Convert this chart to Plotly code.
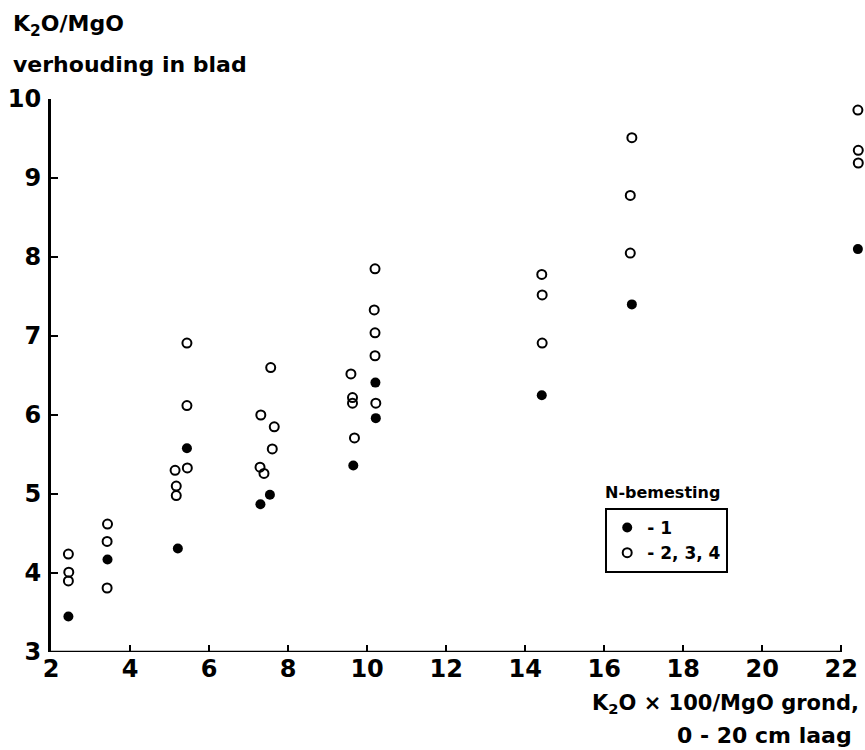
import plotly.graph_objects as go

# N-bemesting 1 (filled)
x_n1 = [2.44, 3.43, 5.21, 5.44, 7.30, 7.54, 9.65, 10.21, 10.22, 14.42, 16.70, 22.42]
y_n1 = [3.45, 4.17, 4.31, 5.58, 4.87, 4.99, 5.36, 6.41, 5.96, 6.25, 7.40, 8.10]

# N-bemesting 2, 3, 4 (open)
x_n234 = [2.44, 2.45, 2.44,
          3.43, 3.42, 3.42,
          5.14, 5.17, 5.17,
          5.44, 5.44, 5.45,
          7.56, 7.31, 7.65, 7.60, 7.29, 7.39,
          10.20, 10.18, 10.20, 10.20, 9.59, 9.63, 9.63, 10.22, 9.68,
          14.42, 14.43, 14.43,
          16.70, 16.66, 16.66,
          22.42, 22.43, 22.43]
y_n234 = [4.24, 4.01, 3.90,
          4.62, 4.40, 3.81,
          5.30, 5.10, 4.98,
          6.91, 6.12, 5.33,
          6.60, 6.00, 5.85, 5.57, 5.34, 5.26,
          7.85, 7.33, 7.04, 6.75, 6.52, 6.22, 6.15, 6.15, 5.71,
          7.78, 7.52, 6.91,
          9.51, 8.78, 8.05,
          9.86, 9.35, 9.19]

x_ticks = [2, 4, 6, 8, 10, 12, 14, 16, 18, 20, 22]
y_ticks = [3, 4, 5, 6, 7, 8, 9, 10]

FONT = "DejaVu Sans"
WEIGHT = "bold"
X_MIN, X_AXIS_END, X_MAX = 2, 22, 22.6
Y_MIN, Y_MAX = 3, 10

# pixel geometry of the plotting area
L, T = 51, 99
PX_PER_X = 39.5
PLOT_W = (X_MAX - X_MIN) * PX_PER_X
PLOT_H = 553
R = 865 - L - PLOT_W
B = 750 - T - PLOT_H

def f(size):
    return dict(family=FONT, color="black", size=size, weight=WEIGHT)

fig = go.Figure()
fig.add_trace(go.Scatter(
    x=x_n1, y=y_n1, mode="markers", name="- 1",
    marker=dict(symbol="circle", size=10, color="black"),
    cliponaxis=False))
fig.add_trace(go.Scatter(
    x=x_n234, y=y_n234, mode="markers", name="- 2, 3, 4",
    marker=dict(symbol="circle-open", size=9, color="black",
                line=dict(width=2, color="black")),
    cliponaxis=False))

fig.update_layout(
    width=865, height=750,
    margin=dict(l=L, r=R, t=T, b=B, autoexpand=False),
    paper_bgcolor="white", plot_bgcolor="white",
    font=f(24),
    showlegend=True,
    legend=dict(x=(605 - L) / PLOT_W, y=(T + PLOT_H - 508) / PLOT_H,
                xanchor="left", yanchor="top",
                bordercolor="black", borderwidth=2, bgcolor="white",
                font=f(17),
                tracegroupgap=0, itemwidth=30),
    xaxis=dict(range=[X_MIN, X_MAX], tickvals=x_ticks, ticktext=[str(v) for v in x_ticks],
               showgrid=False, zeroline=False, showline=False,
               ticks="inside", ticklen=7, tickwidth=2, tickcolor="black",
               ticklabelstandoff=0,
               tickfont=f(24)),
    yaxis=dict(range=[Y_MIN, Y_MAX], tickvals=y_ticks, ticktext=[str(v) for v in y_ticks],
               showgrid=False, zeroline=False, showline=True,
               linecolor="black", linewidth=3,
               ticks="inside", ticklen=7, tickwidth=2, tickcolor="black",
               ticklabelstandoff=2,
               tickfont=f(24)),
)

# x axis line ending at 22
fig.add_shape(type="line", xref="x", yref="y", x0=X_MIN, x1=X_AXIS_END, y0=Y_MIN, y1=Y_MIN,
              line=dict(color="black", width=2.5))

annotations = [
    dict(text="K<sub>2</sub>O/MgO", x=11, y=25, xanchor="left", yanchor="middle",
         font=f(22)),
    dict(text="verhouding in blad", x=11, y=64, xanchor="left", yanchor="middle",
         font=f(22)),
    dict(text="K<sub>2</sub>O × 100/MgO grond,", x=861, y=704, xanchor="right", yanchor="middle",
         font=f(21)),
    dict(text="0 - 20 cm laag", x=854, y=735, xanchor="right", yanchor="middle",
         font=f(22)),
    dict(text="N-bemesting", x=662, y=492, xanchor="center", yanchor="middle",
         font=f(16)),
]
for a in annotations:
    px, py = a.pop("x"), a.pop("y")
    fig.add_annotation(x=(px - L) / PLOT_W, y=(T + PLOT_H - py) / PLOT_H,
                       xref="paper", yref="paper", showarrow=False, **a)

fig.write_html("out.html")
